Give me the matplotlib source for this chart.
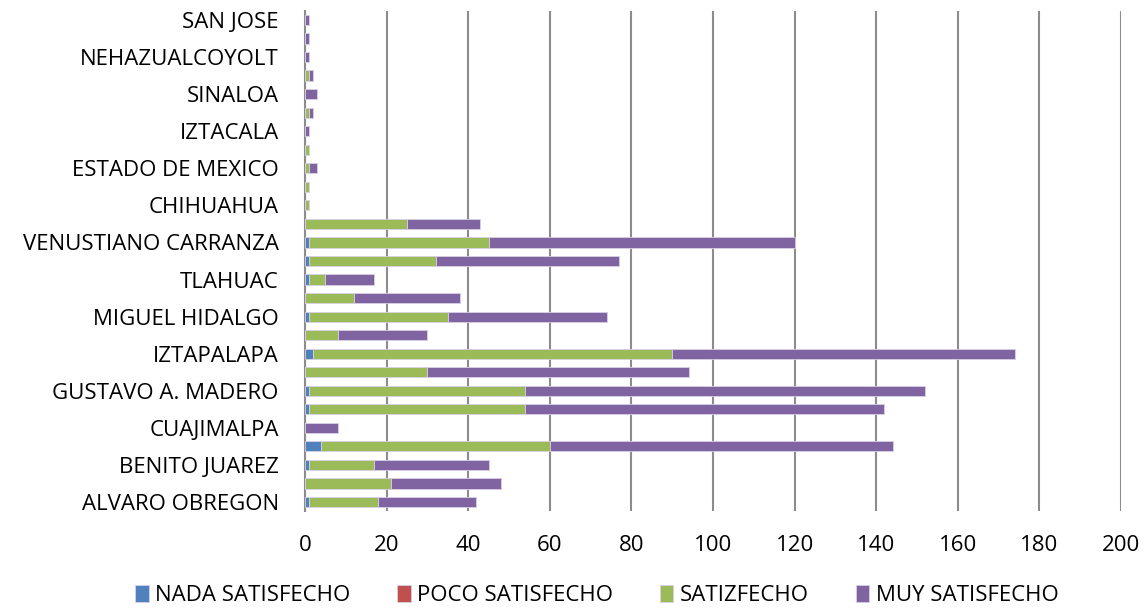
import numpy as np
import matplotlib
matplotlib.use("Agg")
import matplotlib.pyplot as plt

plt.rcParams['font.family'] = ['Open Sans', 'DejaVu Sans']

# categories from bottom to top
categories = [
    'ALVARO OBREGON', 'AZCAPOTZALCO', 'BENITO JUAREZ', 'COYOACAN',
    'CUAJIMALPA', 'CUAUHTEMOC', 'GUSTAVO A. MADERO', 'IZTACALCO',
    'IZTAPALAPA', 'MAGDALENA CONTRERAS', 'MIGUEL HIDALGO', 'MILPA ALTA',
    'TLAHUAC', 'TLALPAN', 'VENUSTIANO CARRANZA', 'XOCHIMILCO',
    'CHIHUAHUA', 'ECATEPEC', 'ESTADO DE MEXICO', 'HIDALGO',
    'IZTACALA', 'MORELOS', 'SINALOA', 'NAUCALPAN',
    'NEHAZUALCOYOLT', 'PUEBLA', 'SAN JOSE',
]

nada = [1, 0, 1, 4, 0, 1, 1, 0, 2, 0, 1, 0, 1, 1, 1, 0, 0, 0,
        0, 0, 0, 0, 0, 0, 0, 0, 0]
poco = [0] * 27
satis = [17, 21, 16, 56, 0, 53, 53, 30, 88, 8, 34, 12, 4, 31, 44, 25, 1, 1,
         1, 1, 0, 1, 0, 1, 0, 0, 0]
muy = [24, 27, 28, 84, 8, 88, 98, 64, 84, 22, 39, 26, 12, 45, 75, 18, 0, 0,
       2, 0, 1, 1, 3, 1, 1, 1, 1]

series = ['NADA SATISFECHO', 'POCO SATISFECHO', 'SATIZFECHO', 'MUY SATISFECHO']
colors = ['#4F81BD', '#C0504D', '#9BBB59', '#8064A2']
x_ticks = [0, 20, 40, 60, 80, 100, 120, 140, 160, 180, 200]

fig = plt.figure(figsize=(11.48, 6.14), dpi=100)
ax = fig.add_axes([0.2657, 0.1673, 0.7108, 0.8153])

y = np.arange(len(categories))
left = np.zeros(len(categories))
for name, vals, col in zip(series, [nada, poco, satis, muy], colors):
    vals = np.array(vals, dtype=float)
    ax.barh(y, vals, left=left, height=0.55, color=col, label=name,
            edgecolor='#d9cfe6', linewidth=0.6, zorder=3)
    left += vals

ax.set_xlim(0, 200)
ax.set_ylim(-0.5, len(categories) - 0.5)
ax.set_xticks(x_ticks)
ax.set_yticks(y[::2])
ax.set_yticklabels(categories[::2])
ax.tick_params(axis='both', length=0, labelsize=16, colors='black')
ax.tick_params(axis='y', pad=19)
ax.tick_params(axis='x', pad=17)
ax.grid(axis='x', color='#8c8c8c', linewidth=1.5, zorder=0)

for s in ['top', 'right', 'bottom']:
    ax.spines[s].set_visible(False)
ax.spines['left'].set_color('#8c8c8c')
ax.spines['left'].set_linewidth(1.5)

fig.legend(loc='lower center', bbox_to_anchor=(0.52, -0.02), ncol=4,
           frameon=False, fontsize=16, handlelength=0.6, handleheight=0.75,
           handletextpad=0.3, columnspacing=2.1)

fig.savefig('out.png', dpi=100)
